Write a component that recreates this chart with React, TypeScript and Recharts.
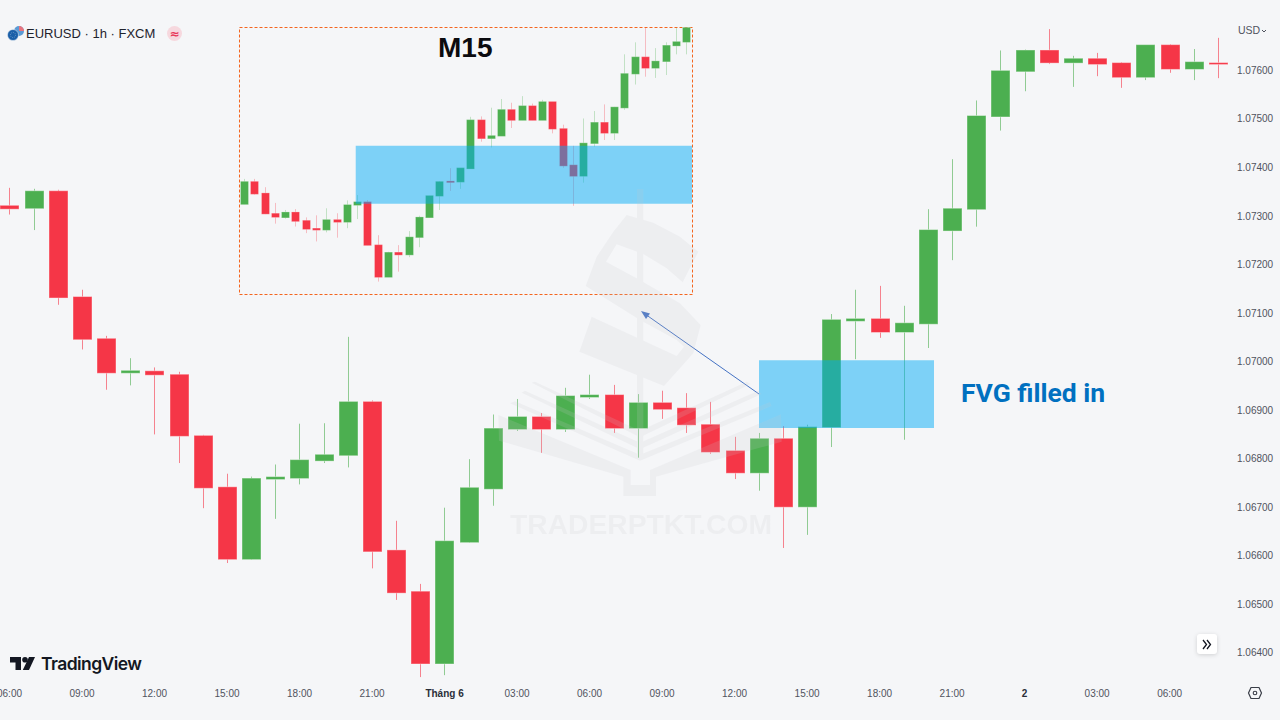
import React from "react";
import { ComposedChart, Bar, XAxis, YAxis, ReferenceArea } from "recharts";

const BG = "#F5F6F8";
const UP = "#4CAF50";
const DOWN = "#F53647";

// Hourly EURUSD
const mainOpen = [1.07321,1.07316,1.07351,1.07133,1.07047,1.06977,1.0698,1.06973,1.06847,1.06741,1.06593,1.06758,1.0676,1.06796,1.06807,1.06917,1.06611,1.06526,1.06378,1.06628,1.06738,1.06861,1.06886,1.06861,1.06927,1.06931,1.06863,1.06915,1.06904,1.0687,1.06816,1.06771,1.06841,1.06701,1.06865,1.07084,1.07088,1.07061,1.07078,1.0727,1.07314,1.07505,1.07598,1.07641,1.07616,1.07624,1.07615,1.07586,1.07652,1.07603,1.07615];
const mainHigh = [1.07358,1.07356,1.07354,1.07148,1.07053,1.07007,1.06988,1.06979,1.06849,1.06769,1.06763,1.06788,1.06872,1.06873,1.07051,1.0692,1.06672,1.06542,1.06699,1.06799,1.06891,1.06923,1.06894,1.06946,1.06973,1.06952,1.06933,1.0694,1.06935,1.06917,1.06845,1.06853,1.06867,1.0687,1.07098,1.07148,1.07156,1.07115,1.07314,1.07417,1.07538,1.07641,1.07643,1.07685,1.0763,1.07636,1.07617,1.07652,1.07654,1.07644,1.07667];
const mainLow = [1.07303,1.07271,1.07117,1.07025,1.06942,1.06951,1.0685,1.06791,1.06698,1.06585,1.06592,1.06676,1.06747,1.06791,1.06782,1.06574,1.06509,1.0635,1.06354,1.06627,1.06703,1.06857,1.06812,1.06855,1.06923,1.06853,1.06802,1.06882,1.06853,1.0681,1.06758,1.06734,1.06616,1.06643,1.06824,1.07005,1.07049,1.06839,1.07028,1.07209,1.07278,1.07476,1.07557,1.07613,1.07566,1.07588,1.07564,1.0758,1.07595,1.0758,1.07584];
const mainClose = [1.07315,1.07351,1.07132,1.07046,1.06977,1.06981,1.06973,1.06847,1.0674,1.06593,1.06759,1.06762,1.06797,1.06808,1.06917,1.06609,1.06524,1.06378,1.0663,1.0674,1.06862,1.06886,1.06861,1.06929,1.06931,1.06863,1.06915,1.06902,1.0687,1.06814,1.06771,1.06841,1.06701,1.06865,1.07086,1.07088,1.07061,1.07079,1.07271,1.07315,1.07506,1.07599,1.07641,1.07616,1.07624,1.07613,1.07586,1.07652,1.07603,1.07617,1.07613];

// M15 inset
const m15Open = [1.06863,1.06917,1.06889,1.0684,1.06831,1.06843,1.06823,1.06804,1.06801,1.06825,1.0682,1.06861,1.06868,1.06764,1.06687,1.06746,1.06741,1.06783,1.06831,1.06883,1.06918,1.06917,1.06949,1.07066,1.07022,1.07028,1.07091,1.07066,1.071,1.07066,1.0711,1.07045,1.06957,1.06931,1.0701,1.0706,1.07035,1.07096,1.07178,1.07218,1.07192,1.07208,1.07246,1.07255];
const m15High = [1.06924,1.06924,1.06904,1.06866,1.06849,1.06851,1.06831,1.06836,1.06853,1.06841,1.06872,1.06885,1.06873,1.06788,1.06748,1.06764,1.06798,1.06835,1.06883,1.06919,1.0695,1.0695,1.07074,1.07075,1.07096,1.07117,1.07108,1.07124,1.07106,1.07115,1.0711,1.07055,1.07004,1.0707,1.07088,1.07104,1.07098,1.07225,1.07254,1.07289,1.0724,1.07254,1.07289,1.07289];
const m15Low = [1.06863,1.06886,1.06839,1.06816,1.06828,1.06809,1.06793,1.06773,1.06795,1.06782,1.06805,1.06827,1.06764,1.06676,1.06687,1.067,1.06735,1.06759,1.06831,1.06849,1.06895,1.069,1.06949,1.07014,1.07,1.07028,1.07047,1.07066,1.07066,1.07066,1.07034,1.06951,1.06859,1.06915,1.07002,1.07018,1.07018,1.07091,1.07152,1.07171,1.07168,1.07175,1.07225,1.07225];
const m15Close = [1.06917,1.06888,1.0684,1.06832,1.06843,1.06822,1.06803,1.06801,1.06825,1.0682,1.06861,1.06868,1.06764,1.06687,1.06746,1.06741,1.06783,1.06831,1.06883,1.06917,1.06916,1.0695,1.07066,1.07022,1.07028,1.07091,1.07066,1.071,1.07066,1.0711,1.07045,1.06956,1.06931,1.0701,1.0706,1.07035,1.07097,1.07178,1.07218,1.07192,1.07208,1.07246,1.07255,1.07289];

const priceTicks = [1.064,1.065,1.066,1.067,1.068,1.069,1.07,1.071,1.072,1.073,1.074,1.075,1.076];
const timeTickIndex = [0,3,6,9,12,15,18,21,24,27,30,33,36,39,42,45,48];
const timeTickLabels = ["06:00","09:00","12:00","15:00","18:00","21:00","Tháng 6","03:00","06:00","09:00","12:00","15:00","18:00","21:00","2","03:00","06:00"];
const boldTimeLabels = ["Tháng 6","2"];

const mainXDomain = [-0.393, 50.497];
const mainYDomain = [1.06344, 1.07745];
const m15XDomain = [-0.554, 43.51];
const m15YDomain = [1.06646, 1.07291];
const fvgMain = { x1: 31.01, x2: 38.25, top: 1.07003, bottom: 1.06863 };
const fvgM15 = { x1: 10.8, x2: 43.51, top: 1.07004, bottom: 1.06864 };
const FVG_COLOR = "rgb(0,172,246)";

const build = (o: number[], h: number[], l: number[], c: number[]) =>
  o.map((_, i) => ({ i, open: o[i], high: h[i], low: l[i], close: c[i] }));
const mainRows = build(mainOpen, mainHigh, mainLow, mainClose);
const m15Rows = build(m15Open, m15High, m15Low, m15Close);
const range = (d: any) => [d.low, d.high];

const candle = (wickOpacity: number, halo: number) => (p: any) => {
  const { x, y, width, height, payload } = p;
  const cx = Math.floor(x + width / 2);
  const unit = height / (payload.high - payload.low);
  const yOf = (v: number) => y + (payload.high - v) * unit;
  const top = yOf(Math.max(payload.open, payload.close));
  const bottom = yOf(Math.min(payload.open, payload.close));
  const color = payload.close >= payload.open ? UP : DOWN;
  return (
    <g>
      <line x1={cx + 0.5} x2={cx + 0.5} y1={y} y2={y + height} stroke={color} strokeOpacity={wickOpacity} strokeWidth={1} />
      <rect x={cx + 0.5 - width / 2} y={top - 0.5} width={width} height={Math.max(bottom - top + 1, 1.5)} fill={color} stroke="#ffffff" strokeOpacity={halo} strokeWidth={1} />
    </g>
  );
};

const TimeTick = (p: any) => {
  const label = timeTickLabels[timeTickIndex.indexOf(p.payload.value)];
  const bold = boldTimeLabels.includes(label);
  return (
    <text x={p.x} y={p.y + 9} textAnchor="middle" fontSize={10} fontFamily="'Liberation Sans', Arial, sans-serif" fontWeight={bold ? 700 : 400} fill={bold ? "#2a2e39" : "#50535e"}>
      {label}
    </text>
  );
};

const Watermark = () => (
  <svg width={1280} height={720} style={{ position: "absolute", left: 0, top: 0, pointerEvents: "none" }}>
    <g opacity={0.17} fill="#C8C8CD">
      <g transform="translate(480 200) scale(0.33333)">
        <rect x={471} y={-33} width={19} height={808} />
        <path d="M440 45 L520 68 L600 110 L655 155 L608 247 L560 205 L490 162 L410 133 L378 185 L470 235 L600 310 L662 375 L640 460 L552 558 L298 455 L335 350 L590 468 L612 440 L590 420 L480 360 L317 258 L350 170 L400 95 Z" />
        <path d="M155 548 L165 545 L480 692 L800 545 L812 552 L480 712 Z" />
        <path d="M125 578 L135 572 L480 728 L835 572 L845 582 L480 748 Z" />
        <path d="M90 610 L105 604 L480 764 L870 606 L875 618 L480 782 Z" />
        <path d="M55 645 L452 810 L452 855 L510 855 L510 810 L903 643 L905 725 L528 830 L528 888 L430 888 L430 830 L57 722 Z" />
      </g>
      <text x={510} y={534} fontSize={27} fontWeight={700} fontFamily="'Liberation Sans', Arial, sans-serif" textLength={262} lengthAdjust="spacingAndGlyphs">TRADERPTKT.COM</text>
    </g>
  </svg>
);

const Overlays = () => (
  <svg width={1280} height={720} style={{ position: "absolute", left: 0, top: 0, pointerEvents: "none" }}>
    <rect x={239.5} y={27.5} width={453} height={267} fill="none" stroke="#F4651E" strokeWidth={1} strokeDasharray="3 2" />
    <text x={438} y={57} fontSize={28} fontWeight={700} fontFamily="'Liberation Sans', Arial, sans-serif" fill="#0b0b0f">M15</text>
    <line x1={759} y1={394} x2={645} y2={314} stroke="#4472C4" strokeWidth={1} />
    <polygon points="641,311 650,313.5 646,319" fill="#4472C4" />
    <text x={961} y={402} fontSize={26.5} fontWeight={700} fontFamily="Roboto, sans-serif" fill="#0070C0">FVG filled in</text>
    <circle cx={19} cy={31} r={5} fill="#5B9BD5" />
    <path d="M19 26 A5 5 0 0 1 24 31 L19 31 Z" fill="#E8747E" />
    <circle cx={13} cy={35} r={5.5} fill="#1B5FA8" stroke={BG} strokeWidth={0.5} />
    <circle cx={13} cy={35} r={2.6} fill="none" stroke="#7FA8D0" strokeWidth={0.7} strokeDasharray="1 1" />
    <text x={26} y={37.5} fontSize={13} fontFamily="'Liberation Sans', Arial, sans-serif" fill="#1f232d">EURUSD · 1h · FXCM</text>
    <circle cx={174.5} cy={33.5} r={7.5} fill="#F6D8DE" />
    <text x={174.5} y={38} fontSize={12} fontWeight={700} textAnchor="middle" fontFamily="'DejaVu Sans', sans-serif" fill="#E8375A">≈</text>
    <text x={1238} y={34} fontSize={10.5} fontFamily="'Liberation Sans', Arial, sans-serif" fill="#50535e">USD</text>
    <path d="M1262 30 L1264 32 L1266 30" fill="none" stroke="#50535e" strokeWidth={1} />
    <path d="M10 657 H21 V670 H15.5 V662.5 H10 Z" fill="#131722" />
    <circle cx={25} cy={659.8} r={2.8} fill="#131722" />
    <path d="M29 657 H35 L29 670 H22.8 Z" fill="#131722" />
    <text x={41} y={670} fontSize={17.5} fontWeight={600} fontFamily="Inter, Roboto, sans-serif" fill="#131722" textLength={101} lengthAdjust="spacing">TradingView</text>
    <rect x={1197} y={634} width={20} height={20} rx={3} fill="#ffffff" style={{ filter: "drop-shadow(0 1px 2px rgba(0,0,0,0.15))" }} />
    <path d="M1203 640 L1206.5 644.5 L1203 649 M1207 640 L1210.5 644.5 L1207 649" fill="none" stroke="#131722" strokeWidth={1.3} />
    <path d="M1251 687.5 H1259 L1261.5 693 L1259 698.5 H1251 L1248.5 693 Z" fill="none" stroke="#3a3e48" strokeWidth={1.2} strokeLinejoin="round" />
    <circle cx={1255} cy={693} r={1.8} fill="none" stroke="#3a3e48" strokeWidth={1.1} />
  </svg>
);

const layer = (left: number, top: number): React.CSSProperties => ({ position: "absolute", left, top });

export default function App() {
  return (
    <div style={{ position: "absolute", left: 0, top: 0, width: 1280, height: 720, background: BG, overflow: "hidden" }}>
      <Overlays />
      <div style={layer(0, 0)}>
        <ComposedChart width={1280} height={720} data={mainRows} margin={{ top: 0, right: 0, bottom: 0, left: 0 }}>
          <XAxis dataKey="i" type="number" domain={mainXDomain} allowDataOverflow ticks={timeTickIndex} interval={0} height={40} axisLine={false} tickLine={false} tick={<TimeTick />} />
          <YAxis orientation="right" domain={mainYDomain} allowDataOverflow ticks={priceTicks} interval={0} width={50} axisLine={false} tickLine={false} tickMargin={1} tickFormatter={(v: number) => v.toFixed(5)} tick={{ fontSize: 10, fill: "#50535e", fontFamily: "'Liberation Sans', Arial, sans-serif" }} />
          <Bar dataKey={range} barSize={19} shape={candle(0.6, 0.4)} isAnimationActive={false} />
        </ComposedChart>
      </div>
      <div style={layer(0, 0)}>
        <ComposedChart width={1280} height={720} data={mainRows} margin={{ top: 0, right: 50, bottom: 40, left: 0 }}>
          <XAxis dataKey="i" type="number" domain={mainXDomain} allowDataOverflow hide />
          <YAxis domain={mainYDomain} allowDataOverflow hide />
          <ReferenceArea x1={fvgMain.x1} x2={fvgMain.x2} y1={fvgMain.top} y2={fvgMain.bottom} fill={FVG_COLOR} fillOpacity={0.49} stroke="none" ifOverflow="visible" />
        </ComposedChart>
      </div>
      <div style={layer(239, 27)}>
        <ComposedChart width={453} height={267} data={m15Rows} margin={{ top: 0, right: 0, bottom: 0, left: 0 }}>
          <XAxis dataKey="i" type="number" domain={m15XDomain} allowDataOverflow hide />
          <YAxis domain={m15YDomain} allowDataOverflow hide />
          <Bar dataKey={range} barSize={8} shape={candle(0.3, 0.25)} isAnimationActive={false} />
        </ComposedChart>
      </div>
      <div style={layer(239, 27)}>
        <ComposedChart width={453} height={267} data={m15Rows} margin={{ top: 0, right: 0, bottom: 0, left: 0 }}>
          <XAxis dataKey="i" type="number" domain={m15XDomain} allowDataOverflow hide />
          <YAxis domain={m15YDomain} allowDataOverflow hide />
          <ReferenceArea x1={fvgM15.x1} x2={fvgM15.x2} y1={fvgM15.top} y2={fvgM15.bottom} fill={FVG_COLOR} fillOpacity={0.49} stroke="none" ifOverflow="visible" />
        </ComposedChart>
      </div>
      <Watermark />
    </div>
  );
}
